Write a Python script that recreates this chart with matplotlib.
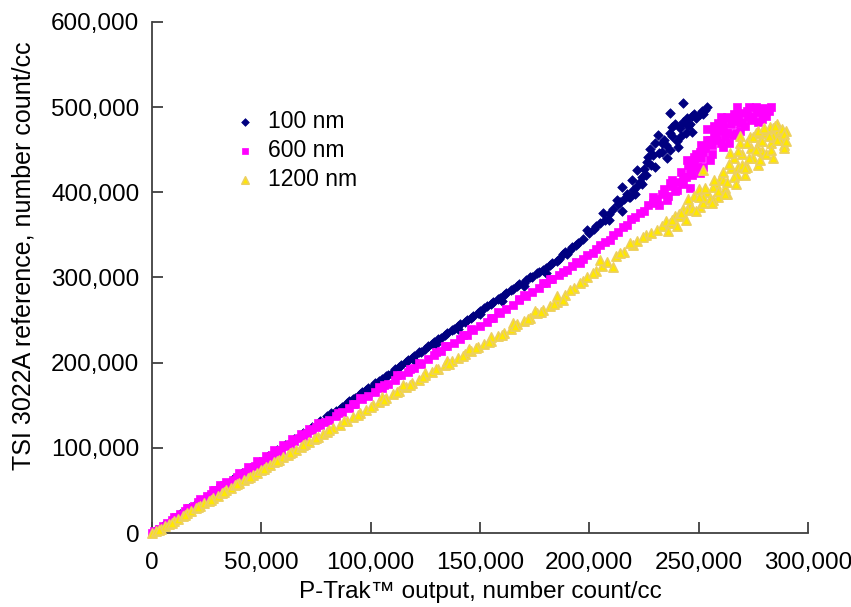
import numpy as np
import matplotlib.pyplot as plt
from matplotlib.ticker import FuncFormatter, MultipleLocator

plt.rcParams['font.family'] = ['Liberation Sans', 'DejaVu Sans']

# values in thousands of counts/cc
x100 = [2, 5, 9, 13, 17, 21, 25, 29, 33, 37, 41, 45, 49, 53, 57, 61, 65, 69, 73, 77,
        80, 84, 87, 90, 93, 96, 99, 102, 105, 108, 111, 114, 117, 120, 123, 126, 129,
        132, 135, 138, 141, 144, 147, 150, 153, 156, 159, 162, 165, 168, 171, 174, 177,
        180, 183, 186, 189, 192, 195,
        100, 110, 120, 130, 140, 150, 160, 170, 180, 190,
        82, 86, 89, 92, 95, 98, 101, 104, 107, 110, 113, 116, 119, 122, 125, 128, 131,
        134, 137, 140, 143, 146, 149, 152, 155, 158, 161, 164, 167, 170, 173, 176, 179,
        182, 185, 188, 191, 194, 197, 200,
        202, 205, 207, 209, 211, 213, 216, 217, 222, 224, 225, 228, 229, 232, 233, 234,
        238, 239, 243, 245, 247, 249, 253, 254,
        198.9, 206.2, 214.0, 218.6, 212.6, 220.0, 214.9, 223.2, 219.5, 221.8, 226.4,
        235.5, 240.5, 236.9, 227.7, 230.0, 231.4, 246.9, 241.5, 237.8, 251.5, 250.6,
        244.7, 236.9, 242.8, 203.0, 209.0,
        215, 218, 221, 224, 226, 227, 230, 233, 235, 237, 240, 242, 244, 246, 248, 252]
y100 = [3, 8, 15, 22, 29, 36, 42, 49, 56, 63, 70, 76, 83, 90, 97, 103, 110, 117, 124, 131,
        137, 143, 148, 155, 159, 165, 170, 176, 181, 185, 192, 197, 203, 208, 213, 219, 224,
        229, 235, 239, 245, 250, 255, 261, 266, 271, 276, 282, 286, 292, 297, 301, 306,
        311, 317, 322, 330, 336, 341,
        166, 186, 203, 222, 240, 257, 272, 290, 305, 327,
        141, 146, 153, 157, 163, 168, 173, 179, 184, 189, 195, 201, 206, 212, 216, 222, 228,
        232, 238, 243, 248, 253, 258, 264, 269, 275, 279, 285, 290, 294, 300, 305, 309,
        315, 319, 327, 332, 338, 345, 352,
        357, 364, 368, 375, 381, 386, 392, 398, 407, 418, 427, 432, 444, 446, 458, 462,
        466, 480, 482, 478, 490, 487, 497, 500,
        355.8, 375.7, 388.7, 394.5, 391.0, 402.7, 406.3, 412.1, 414.5, 426.2, 435.6,
        440.3, 453.2, 449.7, 450.9, 457.9, 467.3, 470.8, 475.5, 476.7, 495.5, 491.7,
        487.3, 493.2, 504.9, 360.0, 368.0,
        378, 395, 398, 410, 420, 441, 430, 447, 455, 470, 460, 466, 470, 480, 492, 492]

x600 = [0, 1, 3, 5, 7, 9, 11, 13, 15, 17, 19, 21, 23, 25, 27, 29, 31, 33, 35, 37, 39,
        41, 43, 45, 47, 49, 51, 53, 55, 57, 59, 61, 63, 65, 67, 69, 71, 73, 75, 77, 79,
        81, 84, 87, 90, 93, 96, 99, 102, 105, 108, 111, 114, 117, 120, 123, 126, 129,
        132, 135, 138, 141, 144, 147, 150, 153, 156, 159, 162, 165, 168, 171, 174, 177,
        180, 183, 186,
        31, 40, 48, 56, 64, 72, 92, 106, 118, 130, 142, 155, 168, 179,
        10, 16, 22, 28, 34, 44, 52, 60, 68, 76, 85, 95, 104, 112, 122, 134, 146, 158,
        170, 182,
        188, 192, 194, 197, 199, 203, 205, 207, 211, 213, 217, 219, 221, 225, 227, 231,
        233, 238, 241, 244, 246, 248, 251, 253, 256, 257, 259, 262, 263, 265, 266, 269,
        270, 271, 273, 275, 277, 280, 281,
        189.8, 195.7, 201.7, 209.4, 215.4, 223.2, 229.1, 235.5, 229.1, 240.1, 236.9,
        242.8, 250.6, 244.7, 249.2, 255.2, 252.0, 250.6, 261.1, 255.2, 258.4, 265.7,
        258.8, 268.9, 261.1, 272.6, 276.7, 267.5, 279.4, 246.0, 263.0,
        232, 236, 239, 243, 245, 247, 249, 252, 254, 256, 258, 260, 261, 263, 264, 266,
        267, 268, 270, 272, 274, 276, 278, 279, 282, 283, 260, 257, 254, 251, 248, 246,
        242, 238, 234]
y600 = [0, 2, 5, 8, 12, 15, 19, 22, 26, 29, 32, 36, 39, 43, 46, 50, 53, 56, 59, 62, 66,
        69, 72, 75, 79, 82, 85, 88, 92, 95, 98, 102, 105, 108, 111, 114, 117, 121, 124,
        127, 130, 133, 137, 142, 147, 152, 157, 161, 166, 170, 175, 180, 185, 189, 194,
        199, 204, 209, 214, 219, 223, 228, 233, 238, 243, 248, 253, 258, 263, 268, 273,
        278, 283, 288, 293, 298, 303,
        56, 70, 84, 97, 110, 122, 152, 174, 193, 213, 233, 252, 275, 294,
        19, 29, 40, 50, 60, 77, 90, 103, 116, 129, 141, 158, 172, 185, 200, 220, 239, 259,
        279, 298,
        306, 313, 318, 322, 326, 333, 338, 342, 350, 353, 362, 369, 371, 378, 385, 392,
        398, 407, 412, 418, 425, 433, 440, 452, 455, 468, 472, 466, 488, 480, 492, 472,
        493, 478, 500, 490, 482, 497, 490,
        308.8, 317.0, 328.8, 344.0, 359.3, 375.7, 387.5, 391.0, 394.5, 402.7, 411.0,
        418.0, 422.7, 438.0, 429.8, 438.0, 447.4, 447.4, 453.2, 461.5, 461.5, 467.3,
        481.4, 481.4, 481.4, 488.5, 496.7, 500.2, 499.0, 405.0, 470.0,
        385, 396, 402, 410, 432, 420, 445, 430, 462, 445, 470, 458, 475, 470, 458, 484,
        470, 490, 482, 495, 485, 500, 494, 486, 495, 500, 488, 478, 474, 455, 442, 436,
        424, 415, 404]

x1200 = [0, 2, 4, 6, 8, 10, 12, 14, 16, 18, 20, 22, 24, 26, 28, 30, 32, 34, 36, 38, 40,
         42, 44, 46, 48, 50, 52, 54, 56, 58, 60, 62, 64, 66, 68, 70, 72, 74, 76, 78, 80,
         83, 86, 89, 92, 95, 98, 101, 104, 107, 110, 113, 116, 119, 122, 125, 128, 131,
         134, 137, 140, 143, 146, 149, 152, 155, 158, 161, 164, 167, 170, 173, 176, 179,
         182, 185,
         105, 115, 125, 135, 145, 155, 165, 175, 185,
         3, 9, 15, 21, 27, 33, 39, 45, 51, 57, 63, 69, 75, 81, 88, 94, 100, 106, 112, 118,
         124, 130, 136, 142, 148, 154, 160, 166, 172, 178, 184,
         189, 193, 197, 199, 203, 206, 208, 212, 216, 220, 222, 226, 228, 233, 235, 239,
         241, 243, 246, 248, 254, 258, 260, 262, 265, 266, 268, 270, 271, 274, 275, 278,
         279, 281, 283, 284, 285, 287, 288, 289, 290, 286, 276, 269, 259, 250,
         188.0, 191.2, 195.7, 201.7, 204.9, 210.8, 214.0, 218.6, 224.5, 230.9, 236.9,
         244.7, 250.6, 252.0, 256.6, 252.0, 252.0, 256.6, 261.1, 267.5, 272.1, 277.1,
         264.3, 268.9, 276.7, 273.5, 279.4, 287.2, 286.3, 282.6, 284.0, 289.0, 281.0,
         263.0, 241.0,
         238, 242, 245, 247, 250, 253, 255, 257, 259, 261, 263, 264, 266, 268, 270, 272,
         273, 275, 276, 277, 279, 280, 282, 283, 285, 286, 288, 289, 290, 284, 278, 271,
         267, 262, 256, 249, 244, 240, 236]
y1200 = [0, 2, 5, 8, 11, 14, 17, 20, 23, 26, 29, 32, 35, 38, 41, 44, 47, 50, 53, 56, 59,
         62, 65, 68, 71, 74, 77, 80, 83, 86, 89, 92, 95, 98, 101, 104, 107, 110, 113, 116,
         119, 123, 127, 132, 136, 141, 145, 150, 154, 158, 163, 167, 172, 176, 180, 185,
         189, 193, 197, 202, 206, 210, 214, 218, 222, 226, 231, 235, 240, 245, 249, 253,
         258, 262, 267, 271,
         160, 174, 188, 202, 216, 230, 246, 261, 278,
         3, 12, 21, 30, 39, 48, 57, 66, 75, 84, 94, 103, 112, 121, 131, 139, 148, 156, 166,
         174, 183, 192, 199, 208, 217, 224, 233, 243, 251, 260, 269,
         280, 288, 296, 300, 308, 313, 318, 325, 330, 338, 343, 350, 352, 360, 366, 372,
         375, 380, 385, 396, 400, 410, 418, 405, 428, 440, 430, 445, 420, 452, 440, 460,
         448, 470, 458, 475, 465, 470, 462, 456, 472, 480, 470, 466, 395, 404,
         273.6, 285.3, 293.5, 305.3, 320.6, 312.3, 328.8, 340.5, 347.6, 355.8, 364.0,
         379.3, 382.8, 387.5, 391.0, 394.5, 426.2, 406.3, 414.5, 420.4, 429.8, 432.1,
         446.2, 457.9, 453.2, 465.0, 473.2, 461.5, 473.2, 476.7, 466.0, 452.0, 445.0,
         398.0, 372.0,
         368, 376, 392, 380, 394, 405, 392, 415, 402, 424, 412, 433, 418, 448, 432, 458,
         440, 465, 450, 472, 460, 475, 466, 450, 478, 462, 474, 468, 460, 440, 438, 428,
         410, 398, 388, 378, 368, 360, 355]

fig = plt.figure(figsize=(8.51, 6.07), dpi=100)
ax = fig.add_axes([0.1786, 0.1219, 0.7709, 0.8419])

ax.scatter(np.array(x100) * 1000, np.array(y100) * 1000, marker='D', s=24,
           color='#000080', edgecolors='#000080', linewidths=0.5, label='100 nm',
           clip_on=False, zorder=3)
ax.scatter(np.array(x600) * 1000, np.array(y600) * 1000, marker='s', s=36,
           color='#FF00FF', edgecolors='#FF00FF', linewidths=0.5, label='600 nm',
           clip_on=False, zorder=4)
ax.scatter(np.array(x1200) * 1000, np.array(y1200) * 1000, marker='^', s=44,
           color='#FFE800', edgecolors='#EDD060', linewidths=1.2, label='1200 nm',
           clip_on=False, zorder=5)

ax.set_xlim(0, 300000)
ax.set_ylim(0, 600000)
ax.xaxis.set_major_locator(MultipleLocator(50000))
ax.yaxis.set_major_locator(MultipleLocator(100000))
fmt = FuncFormatter(lambda v, p: f'{int(v):,}')
ax.xaxis.set_major_formatter(fmt)
ax.yaxis.set_major_formatter(fmt)

for s in ['top', 'right']:
    ax.spines[s].set_visible(False)
for s in ['left', 'bottom']:
    ax.spines[s].set_color('#404040')
    ax.spines[s].set_linewidth(1.3)

ax.tick_params(direction='in', length=8, width=1.3, color='#404040',
               labelsize=17.5, pad=9)
ax.tick_params(axis='x', pad=14)

ax.set_xlabel('P-Trak™ output, number count/cc', fontsize=17.5, labelpad=5)
ax.set_ylabel('TSI 3022A reference, number count/cc', fontsize=18)
ax.yaxis.set_label_coords(-0.178, 0.542)

ax.legend(loc='upper left', bbox_to_anchor=(0.083, 0.86), frameon=False,
          fontsize=16.5, handletextpad=0.0, labelspacing=0.28, markerscale=0.8,
          borderpad=0.2)

plt.savefig('out.png', dpi=100)
